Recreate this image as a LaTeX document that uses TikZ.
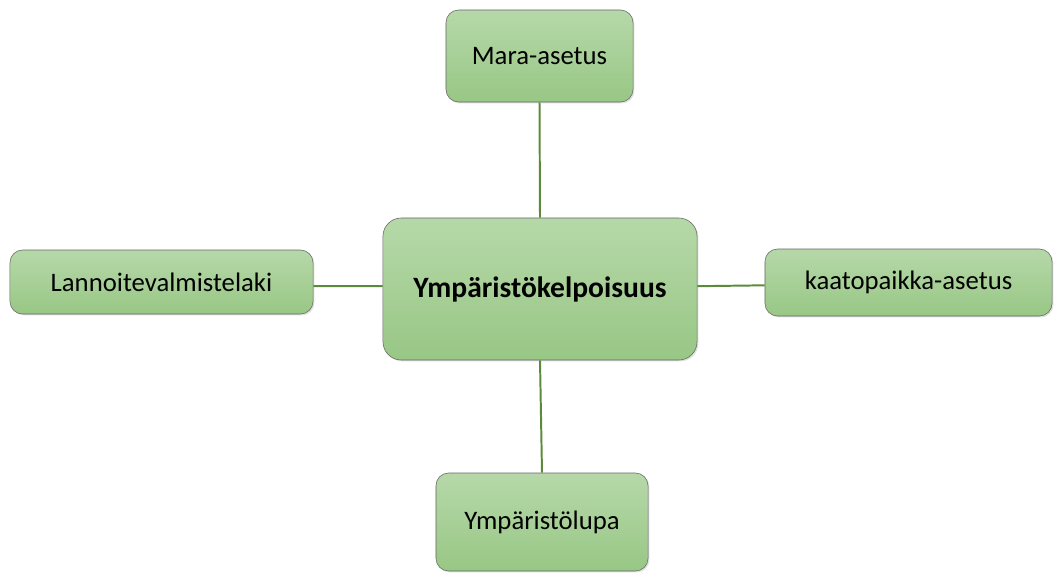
\documentclass[tikz,border=0pt]{standalone}
\usepackage{fontspec}
\setmainfont{Carlito}
\usetikzlibrary{shadows}
\definecolor{boxtop}{HTML}{B6D8A9}
\definecolor{boxbot}{HTML}{98C785}
\definecolor{linkgreen}{HTML}{5B8A3A}
\begin{document}
\begin{tikzpicture}[x=0.025cm,y=-0.025cm,
  topic/.style={draw=black!60,rounded corners=9pt,top color=boxtop,bottom color=boxbot,
    drop shadow={opacity=0.25,shadow xshift=1pt,shadow yshift=-1pt},
    font=\fontsize{19}{23}\selectfont,inner sep=0pt},
  link/.style={linkgreen,line width=1.4pt}]
  \useasboundingbox (0,0) rectangle (1056,574);
  \node[topic,minimum width=7.85cm,minimum height=3.55cm,rounded corners=13pt,
    font=\fontsize{21}{25}\selectfont\bfseries] (core) at (540,289) {Ympäristökelpoisuus};
  \node[topic,minimum width=4.675cm,minimum height=2.3cm] (mara) at (539.5,56) {Mara-asetus};
  \node[topic,minimum width=5.3cm,minimum height=2.45cm] (lupa) at (542,522) {Ympäristölupa};
  \node[topic,minimum width=7.575cm,minimum height=1.6cm] (lanno) at (161.5,282) {Lannoitevalmistelaki};
  \node[topic,minimum width=7.175cm,minimum height=1.675cm] (kaato) at (908.5,282.5) {kaatopaikka-asetus};
  \draw[link] (mara.south) -- (core.north);
  \draw[link] (core.south) -- (lupa.north);
  \draw[link] ([yshift=-3pt]lanno.east) -- ([yshift=2pt]core.west);
  \draw[link] ([yshift=2pt]core.east) -- ([yshift=-2pt]kaato.west);
\end{tikzpicture}
\end{document}
